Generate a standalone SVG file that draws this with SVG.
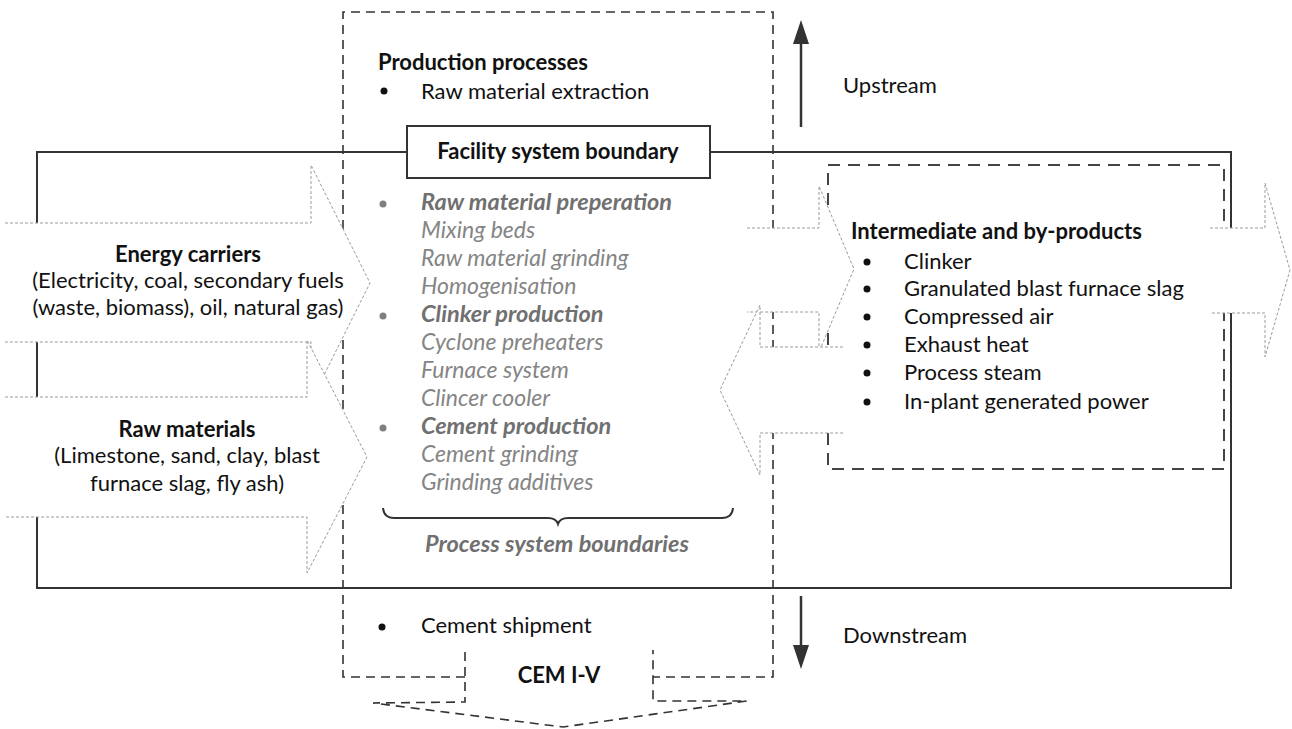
<svg xmlns="http://www.w3.org/2000/svg" width="1292" height="729" viewBox="0 0 1292 729">
<style>
.t{font-family:Lato,'Liberation Sans',sans-serif;font-size:22px;fill:#111}
.b{font-weight:bold}
.c{text-anchor:middle}
.g{fill:#858585;font-style:italic;font-size:23px}
.gb{fill:#707070;font-style:italic;font-weight:bold;font-size:23.5px}
.solid{fill:none;stroke:#333;stroke-width:2}
.dash{fill:none;stroke:#333;stroke-width:1.6;stroke-dasharray:9 6}
.dash2{fill:none;stroke:#444;stroke-width:2;stroke-dasharray:12 8}
.af{fill:#fff;stroke:none}
.as{fill:none;stroke:#9a9a9a;stroke-width:1;stroke-dasharray:3 2}
.dir{fill:none;stroke:#333;stroke-width:2.5}
</style>
<defs>
<marker id="ah" markerUnits="userSpaceOnUse" viewBox="0 0 24 16" markerWidth="24" markerHeight="16" refX="18" refY="8" orient="auto">
<path d="M0,0 L24,8 L0,16 z" fill="#333"/>
</marker>
</defs>
<rect width="1292" height="729" fill="#fff"/>

<g id="facility-boundary">
<path class="solid" d="M407,152 H37 V588 H1231 V152 H710"/>
</g>

<g id="production-processes">
<path class="dash" d="M465,677 H343 V12 H773 V677 H653"/>
<text class="t b" x="378" y="70">Production processes</text>
<circle cx="384" cy="91" r="3.5" fill="#111"/>
<text class="t" x="421" y="99">Raw material extraction</text>
<circle cx="383" cy="204" r="3.5" fill="#808080"/>
<text class="t gb" x="421" y="210">Raw material preperation</text>
<text class="t g" x="421" y="238">Mixing beds</text>
<text class="t g" x="421" y="266">Raw material grinding</text>
<text class="t g" x="421" y="294">Homogenisation</text>
<circle cx="383" cy="316" r="3.5" fill="#808080"/>
<text class="t gb" x="421" y="322">Clinker production</text>
<text class="t g" x="421" y="350">Cyclone preheaters</text>
<text class="t g" x="421" y="378">Furnace system</text>
<text class="t g" x="421" y="406">Clincer cooler</text>
<circle cx="383" cy="428" r="3.5" fill="#808080"/>
<text class="t gb" x="421" y="434">Cement production</text>
<text class="t g" x="421" y="462">Cement grinding</text>
<text class="t g" x="421" y="490">Grinding additives</text>
<path d="M383,508 Q384,518 394,518 H548 Q556,518 558,524 Q560,518 568,518 H722 Q732,518 733,508" fill="none" stroke="#333" stroke-width="2"/>
<text class="t gb c" x="557" y="552">Process system boundaries</text>
<circle cx="382" cy="627" r="3.5" fill="#111"/>
<text class="t" x="421" y="633">Cement shipment</text>
</g>

<g id="intermediate-products">
<rect class="dash2" x="828" y="165" width="396" height="304"/>
<text class="t b" x="851" y="239">Intermediate and by-products</text>
<circle cx="867" cy="262" r="3.5" fill="#111"/>
<text class="t" x="904" y="269">Clinker</text>
<circle cx="867" cy="289" r="3.5" fill="#111"/>
<text class="t" x="904" y="296">Granulated blast furnace slag</text>
<circle cx="867" cy="317" r="3.5" fill="#111"/>
<text class="t" x="904" y="324">Compressed air</text>
<circle cx="867" cy="345" r="3.5" fill="#111"/>
<text class="t" x="904" y="352">Exhaust heat</text>
<circle cx="867" cy="373" r="3.5" fill="#111"/>
<text class="t" x="904" y="380">Process steam</text>
<circle cx="867" cy="402" r="3.5" fill="#111"/>
<text class="t" x="904" y="409">In-plant generated power</text>
</g>

<g id="energy-carriers">
<polygon class="af" points="5,223 311,223 311,165 370,283 311,401 311,342 5,342"/>
<polyline class="as" points="5,223 311,223 311,165 370,283 311,401 311,342 5,342"/>
<text class="t b c" x="188" y="262">Energy carriers</text>
<text class="t c" x="188" y="288">(Electricity, coal, secondary fuels</text>
<text class="t c" x="188" y="315">(waste, biomass), oil, natural gas)</text>
</g>

<g id="raw-materials">
<polygon class="af" points="5,397 307,397 307,340 367,457 307,573 307,517 5,517"/>
<polyline class="as" points="5,397 307,397 307,340 367,457 307,573 307,517 5,517"/>
<text class="t b c" x="187" y="437">Raw materials</text>
<text class="t c" x="187" y="463">(Limestone, sand, clay, blast</text>
<text class="t c" x="187" y="491">furnace slag, fly ash)</text>
</g>

<g id="facility-label">
<rect x="407" y="126" width="303" height="52" fill="#fff" stroke="#333" stroke-width="2"/>
<text class="t b c" x="558" y="159">Facility system boundary</text>
</g>

<g id="cement-output">
<polyline class="dash" points="465,652 465,702 373,703 563,727 747,701 653,701 653,650"/>
<text class="t b c" x="559" y="683">CEM I-V</text>
</g>

<g id="connectors">
<polygon class="af" points="747,228 819,228 819,186 854,269 819,352 819,312 747,312"/>
<polyline class="as" points="747,228 819,228 819,186 854,269 819,352 819,312 747,312"/>
<polygon class="af" points="843,347 760,347 760,305 720,390 760,475 760,433 843,433"/>
<polyline class="as" points="843,347 760,347 760,305 720,390 760,475 760,433 843,433"/>
<polygon class="af" points="1210,228 1265,228 1265,183 1290,270 1265,357 1265,313 1210,313"/>
<polyline class="as" points="1210,228 1265,228 1265,183 1290,270 1265,357 1265,313 1210,313"/>
<line class="dir" x1="801" y1="127" x2="801" y2="26" marker-end="url(#ah)"/>
<line class="dir" x1="801" y1="596" x2="801" y2="663" marker-end="url(#ah)"/>
<text class="t" x="843" y="93">Upstream</text>
<text class="t" x="843" y="643">Downstream</text>
</g>
</svg>
